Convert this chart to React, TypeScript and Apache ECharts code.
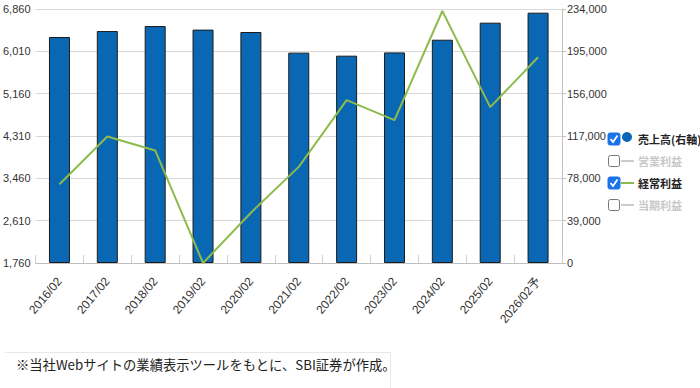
import React, { useEffect, useRef } from "react";
import * as echarts from "echarts";

const categories = ["2016/02", "2017/02", "2018/02", "2019/02", "2020/02", "2021/02", "2022/02", "2023/02", "2024/02", "2025/02", "2026/02予"];
const salesValues = [208200, 213700, 218300, 215000, 212800, 193800, 191000, 194000, 205700, 221400, 230600];
const ordinaryProfit = [3340, 4300, 4020, 1760, 2770, 3690, 5030, 4630, 6820, 4890, 5890];
const leftTicks = { min: 1760, max: 6860, interval: 850 };
const rightTicks = { min: 0, max: 234000, interval: 39000 };
const legendItems = [
  { name: "売上高(右軸)", checked: true, icon: "circle", color: "#0a67b4" },
  { name: "営業利益", checked: false, icon: "line", color: "#cccccc" },
  { name: "経常利益", checked: true, icon: "line", color: "#8dbb4c" },
  { name: "当期利益", checked: false, icon: "line", color: "#cccccc" },
];
const footnote = "※当社Webサイトの業績表示ツールをもとに、SBI証券が作成。";

const fmt = (v: number) => v.toLocaleString("en-US");

export default function App() {
  const ref = useRef<HTMLDivElement>(null);
  useEffect(() => {
    if (!ref.current) return;
    const chart = echarts.init(ref.current, undefined, { renderer: "svg" });
    const legendGraphics: any[] = [];
    legendItems.forEach((it, i) => {
      const cy = 139 + i * 22;
      if (it.checked) {
        legendGraphics.push({
          type: "rect",
          shape: { x: 608, y: cy - 6, width: 12, height: 12, r: 2 },
          style: { fill: "#1a73e8", stroke: "#1a73e8" },
        });
        legendGraphics.push({
          type: "polyline",
          shape: { points: [[610.5, cy], [613, cy + 3], [617.5, cy - 3.5]] },
          style: { stroke: "#ffffff", lineWidth: 1.8, fill: null },
        });
      } else {
        legendGraphics.push({
          type: "rect",
          shape: { x: 608.5, y: cy - 5.5, width: 11, height: 11, r: 2 },
          style: { fill: "#ffffff", stroke: "#767676", lineWidth: 1 },
        });
      }
      if (it.icon === "circle") {
        legendGraphics.push({
          type: "circle",
          shape: { cx: 627, cy: cy - 2, r: 5 },
          style: { fill: it.color },
        });
      } else {
        legendGraphics.push({
          type: "line",
          shape: { x1: 621, y1: cy, x2: 634, y2: cy },
          style: { stroke: it.color, lineWidth: 2 },
        });
      }
      legendGraphics.push({
        type: "text",
        x: 638,
        y: cy,
        style: {
          text: it.name,
          fill: it.checked ? "#222222" : "#c8c8c8",
          font: "bold 11px 'Noto Sans CJK JP', sans-serif",
          verticalAlign: "middle",
        },
      });
    });

    chart.setOption({
      animation: false,
      grid: { left: 35, right: 138, top: 9, bottom: 125 },
      xAxis: {
        type: "category",
        data: categories,
        axisLine: { show: true, lineStyle: { color: "#bfbfbf" } },
        axisTick: { show: true, inside: true, length: 8, lineStyle: { color: "#d0d0d0" } },
        axisLabel: {
          rotate: 50,
          color: "#333333",
          fontSize: 12,
          fontFamily: "'Liberation Sans', 'Noto Sans CJK JP', sans-serif",
          margin: 16,
          interval: 0,
        },
      },
      yAxis: [
        {
          type: "value",
          min: leftTicks.min,
          max: leftTicks.max,
          interval: leftTicks.interval,
          position: "left",
          axisLine: { show: false },
          axisTick: { show: false },
          splitLine: { show: true, lineStyle: { color: "#d9d9d9", width: 1 } },
          axisLabel: {
            color: "#333333",
            fontSize: 11,
            fontFamily: "'Liberation Sans', sans-serif",
            margin: 5,
            formatter: (v: number) => fmt(v),
          },
        },
        {
          type: "value",
          min: rightTicks.min,
          max: rightTicks.max,
          interval: rightTicks.interval,
          position: "right",
          axisLine: { show: true, lineStyle: { color: "#bfbfbf" } },
          axisTick: { show: true, length: 4, lineStyle: { color: "#bfbfbf" } },
          splitLine: { show: false },
          axisLabel: {
            color: "#333333",
            fontSize: 11,
            fontFamily: "'Liberation Sans', sans-serif",
            margin: 5,
            formatter: (v: number) => fmt(v),
          },
        },
      ],
      series: [
        {
          name: "売上高(右軸)",
          type: "bar",
          yAxisIndex: 1,
          data: salesValues,
          barWidth: 21,
          itemStyle: { color: "#0a67b4", borderColor: "#1c1c1c", borderWidth: 1 },
          z: 2,
        },
        {
          name: "経常利益",
          type: "line",
          yAxisIndex: 0,
          data: ordinaryProfit,
          showSymbol: false,
          symbol: "none",
          lineStyle: { color: "#8dbb4c", width: 2 },
          z: 3,
        },
      ],
      graphic: [
        ...legendGraphics,
        {
          type: "line",
          shape: { x1: 5, y1: 352.5, x2: 390, y2: 352.5 },
          style: { stroke: "#e8e8e8", lineWidth: 1 },
        },
        {
          type: "line",
          shape: { x1: 390.5, y1: 352, x2: 390.5, y2: 388 },
          style: { stroke: "#e8e8e8", lineWidth: 1 },
        },
        {
          type: "text",
          x: 16,
          y: 364,
          style: {
            text: footnote,
            fill: "#222222",
            font: "13.3px 'Noto Sans CJK JP', sans-serif",
            verticalAlign: "middle",
          },
        },
      ],
    });
    return () => chart.dispose();
  }, []);
  return (
    <div
      ref={ref}
      style={{ position: "fixed", left: 0, top: 0, width: 700, height: 388, background: "#ffffff" }}
    />
  );
}
